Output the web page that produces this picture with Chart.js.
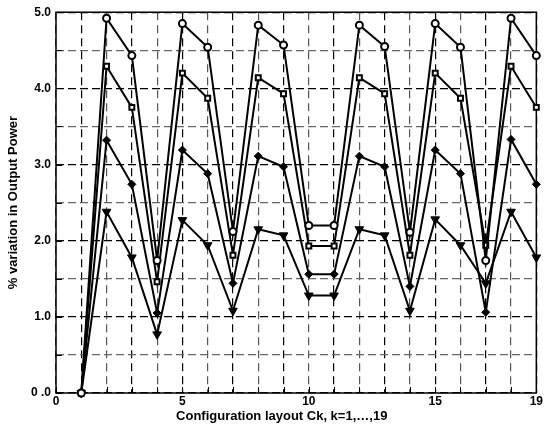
<!DOCTYPE html>
<html>
<head>
<meta charset="utf-8">
<script src="https://cdn.jsdelivr.net/npm/chart.js@4.4.1/dist/chart.umd.min.js"></script>
<style>
html, body { margin: 0; padding: 0; background: #fff; }
#wrap { width: 544px; height: 441px; }
</style>
</head>
<body>
<div id="wrap"><canvas id="grafico"></canvas></div>
<script>
// configuration layouts C1..C19
const layouts = [1, 2, 3, 4, 5, 6, 7, 8, 9, 10, 11, 12, 13, 14, 15, 16, 17, 18, 19];

// % variation in output power, one array per marker
const circleSeries   = [0, 4.92, 4.43, 1.74, 4.85, 4.54, 2.12, 4.83, 4.57, 2.20, 2.20, 4.83, 4.55, 2.11, 4.85, 4.54, 1.74, 4.92, 4.43];
const squareSeries   = [0, 4.29, 3.75, 1.46, 4.20, 3.87, 1.81, 4.14, 3.93, 1.93, 1.93, 4.14, 3.93, 1.81, 4.20, 3.87, 1.94, 4.29, 3.75];
const diamondSeries  = [0, 3.32, 2.74, 1.05, 3.19, 2.88, 1.44, 3.11, 2.97, 1.56, 1.56, 3.11, 2.97, 1.40, 3.19, 2.88, 1.06, 3.33, 2.74];
const triangleSeries = [0, 2.38, 1.78, 0.77, 2.27, 1.94, 1.08, 2.15, 2.07, 1.28, 1.28, 2.15, 2.07, 1.08, 2.28, 1.94, 1.44, 2.38, 1.78];

const xLabeled = [0, 5, 10, 15, 19];
// trailing no-break spaces nudge the centred title a bit left, as in the original
const xTitle = 'Configuration layout Ck, k=1,…,19' + '\u00a0'.repeat(8);
const yTitle = '% variation in Output Power';

const toPoints = arr => arr.map((v, i) => ({ x: layouts[i], y: v }));

const fontFamily = "'Liberation Sans', Arial, sans-serif";
const tickFont = { family: fontFamily, size: 12, weight: 'bold' };
const titleFont = { family: fontFamily, size: 13, weight: 'bold' };

// solid frame round the plot and short inward ticks
const framePlugin = {
    id: 'frame',
    beforeDatasetsDraw(chart) {
        const { ctx, chartArea: a, scales } = chart;
        ctx.save();
        ctx.strokeStyle = '#000';
        ctx.lineWidth = 1.5;
        ctx.setLineDash([]);
        ctx.strokeRect(a.left, a.top, a.right - a.left, a.bottom - a.top);
        ctx.lineWidth = 1;
        ctx.beginPath();
        for (let v = 0; v <= 19; v++) {
            const px = Math.round(scales.x.getPixelForValue(v)) + 0.5;
            ctx.moveTo(px, a.bottom);
            ctx.lineTo(px, a.bottom - 6);
        }
        for (let v = 0; v <= 5; v += 0.5) {
            const py = Math.round(scales.y.getPixelForValue(v)) + 0.5;
            ctx.moveTo(a.left, py);
            ctx.lineTo(a.left + 6, py);
        }
        ctx.stroke();
        ctx.restore();
    }
};

const baseSet = {
    borderColor: '#000',
    borderWidth: 2,
    pointBorderColor: '#000',
    pointBorderWidth: 2,
    tension: 0,
    clip: false
};

new Chart(document.getElementById('grafico').getContext('2d'), {
    type: 'line',
    data: {
        datasets: [
            { ...baseSet, data: toPoints(circleSeries), pointStyle: 'circle', pointRadius: 3.5, pointBackgroundColor: '#fff' },
            { ...baseSet, data: toPoints(squareSeries), pointStyle: 'rect', pointRadius: 3.5, pointBackgroundColor: '#fff' },
            { ...baseSet, data: toPoints(diamondSeries), pointStyle: 'rectRot', pointRadius: 4, pointBackgroundColor: '#000', pointBorderWidth: 1 },
            { ...baseSet, data: toPoints(triangleSeries), pointStyle: 'triangle', rotation: 180, pointRadius: 5, pointBackgroundColor: '#000', pointBorderWidth: 1 }
        ]
    },
    options: {
        responsive: true,
        maintainAspectRatio: false,
        animation: false,
        layout: { padding: { top: 12, right: 7, left: 0, bottom: 0 } },
        plugins: {
            legend: { display: false },
            tooltip: { enabled: false }
        },
        scales: {
            x: {
                type: 'linear',
                min: 0,
                max: 19,
                afterBuildTicks: scale => {
                    scale.ticks = [0].concat(layouts).map(v => ({ value: v }));
                },
                afterFit: scale => { scale.height = 48; },
                ticks: {
                    autoSkip: false,
                    maxRotation: 0,
                    padding: 1,
                    color: '#000',
                    font: tickFont,
                    callback: v => xLabeled.includes(v) ? String(v) : ''
                },
                grid: {
                    drawTicks: false,
                    lineWidth: 1.2,
                    color: c => (c.tick && c.tick.value % 2 === 1) ? '#000' : '#555'
                },
                border: { display: false, dash: [8, 5] },
                title: {
                    display: true,
                    text: xTitle,
                    color: '#000',
                    font: titleFont,
                    padding: { top: 0, bottom: 17 }
                }
            },
            y: {
                min: 0,
                max: 5,
                afterFit: scale => { scale.width = 56; },
                ticks: {
                    stepSize: 0.5,
                    padding: 5,
                    color: '#000',
                    font: tickFont,
                    callback: v => v % 1 === 0 ? (v === 0 ? '0 .0' : v.toFixed(1)) : ''
                },
                grid: {
                    drawTicks: false,
                    lineWidth: 1.2,
                    color: c => (c.tick && c.tick.value % 1 === 0) ? '#000' : '#666'
                },
                border: { display: false, dash: [8, 4] },
                title: {
                    display: true,
                    text: yTitle,
                    color: '#000',
                    font: titleFont,
                    padding: { top: 6, bottom: 0 }
                }
            }
        }
    },
    plugins: [framePlugin]
});
</script>
</body>
</html>
